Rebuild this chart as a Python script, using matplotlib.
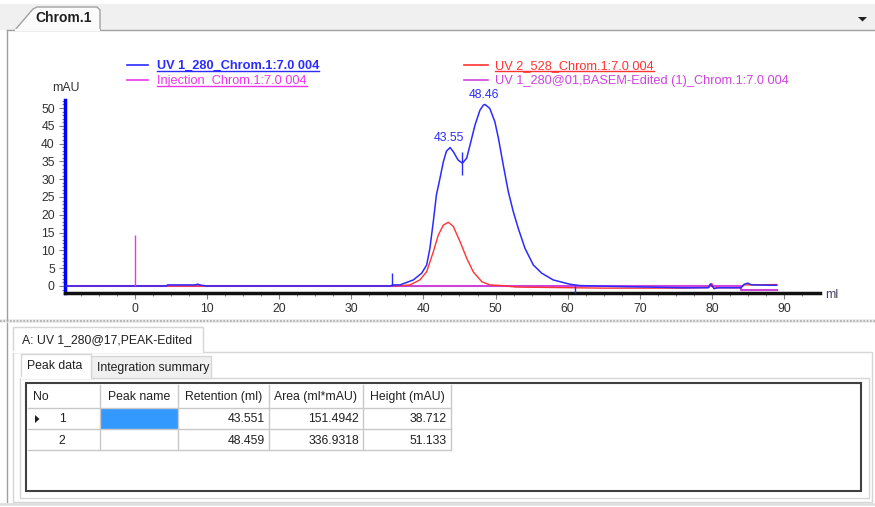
import numpy as np
import matplotlib.pyplot as plt
from matplotlib.patches import Rectangle, Polygon

# ---- data ----
uv1_ml = [-9.7, 4.4, 4.5, 8.3, 8.7, 9.2, 10, 35.5, 35.7, 36.75, 38.6, 39.76, 40.45, 40.9, 41.37,
          41.8, 42.3, 42.76, 43.2, 43.7, 44.15, 44.8, 45.4, 46.0, 46.46, 47.15, 47.84, 48.3,
          48.54, 49.2, 49.9, 50.4, 51.07, 51.77, 52.46, 53.15, 54.08, 55.24, 56.4, 58.0, 60.3,
          61.7, 66, 76, 79.5, 79.8, 80.3, 81, 84, 84.5, 85, 85.5, 89]
uv1_mau = [0, 0, 0.3, 0.3, 0.5, 0.2, 0, 0, 0.3, 0.3, 1.7, 3.6, 5.9, 10.6, 18.1,
           25.6, 30.3, 34.9, 37.9, 38.9, 37.7, 35.4, 34.5, 35.9, 39.6, 45.2, 49.4, 50.8,
           51.0, 49.9, 46.2, 41.5, 34.0, 26.5, 20.9, 16.2, 10.6, 5.9, 3.6, 1.7, 0.5,
           0.1, -0.1, -0.5, -0.5, 0.6, -0.7, -0.5, -0.5, 0.5, 0.8, 0.3, 0.2]

uv2_ml = [-9.7, 35, 37, 38.1, 39.5, 40.45, 41.37, 42.06, 42.76, 43.45, 44.15, 45.07, 46.0,
          46.9, 48.1, 49.2, 51, 52.8, 65, 76, 79.6, 80, 80.3, 80.8, 81, 84, 84.5, 89]
uv2_mau = [0, 0, 0.1, 0.28, 1.7, 4.0, 9.6, 14.3, 17.1, 17.9, 16.7, 12.5, 7.8,
           4.0, 1.2, 0.3, 0.1, -0.3, -0.6, -0.6, -0.4, 0.7, -0.8, -0.3, -0.5, -0.5, 0.3, 0.4]

base_ml = [-9.7, 84, 84, 89]
base_mau = [0, 0, -1.1, -1.1]

inj_ml = [0]
inj_mau = [14.3]

peak_ret = [43.55, 48.46]
peak_top = [38.9, 51.0]
valley_ml = [45.3]
valley_span = [31.2, 37.6]
win_ml = [35.6, 61.0]
win_lo = [0, -2.0]
win_hi = [3.7, 0]

y_ticks = list(range(0, 51, 5))
x_ticks = list(range(0, 91, 10))

legend_names = ["UV 1_280_Chrom.1:7.0 004", "Injection_Chrom.1:7.0 004",
                "UV 2_528_Chrom.1:7.0 004", "UV 1_280@01,BASEM-Edited (1)_Chrom.1:7.0 004"]

col_names = ["No", "Peak name", "Retention (ml)", "Area (ml*mAU)", "Height (mAU)"]
peak_no = [1, 2]
peak_name = ["", ""]
retention = [43.551, 48.459]
area = [151.4942, 336.9318]
height = [38.712, 51.133]

# ---- figure ----
plt.rcParams['font.family'] = ['Liberation Sans', 'DejaVu Sans']
plt.rcParams['font.size'] = 8.8
FS = 8.8

W, H = 875, 507
fig = plt.figure(figsize=(W / 100, H / 100), dpi=100)
fig.patch.set_facecolor('white')

bg = fig.add_axes([0, 0, 1, 1])
bg.set_xlim(0, W)
bg.set_ylim(H, 0)
bg.axis('off')

blue, red, mag, mag2 = '#2b2bff', '#ff3333', '#ee33ee', '#cc44dd'

# top tab bar
bg.add_patch(Rectangle((0, 4), W, 26, fc='#f0f0f0', ec='none'))
bg.plot([7, W], [30, 30], color='#a0a0a0', lw=1)
bg.add_patch(Polygon([(15, 30), (33, 9), (37, 7), (97, 7), (100, 10), (100, 30)],
                     closed=True, fc='#fbfbfb', ec='#a0a0a0', lw=1))
bg.plot([16, 99], [30, 30], color='#fbfbfb', lw=1.5)
bg.text(64, 18, "Chrom.1", ha='center', va='center', fontsize=10, fontweight='bold', color='#202020')
bg.add_patch(Polygon([(858, 17), (867, 17), (862.5, 21.5)], closed=True, fc='#202020', ec='none'))
bg.plot([7, 7], [30, 320], color='#a0a0a0', lw=1)

# splitter
bg.add_patch(Rectangle((0, 318.5), W, 4, fc='#ececec', ec='none'))
bg.plot([0, W], [320.5, 320.5], color='#a8a8a8', lw=1.2, ls=(0, (1, 1)))
bg.plot([7, 7], [323, 502], color='#a0a0a0', lw=1)

# legend
rows_y = [65, 80]
legend_pos = [(127, 148, 157, rows_y[0], blue, True, 'bold'),
              (127, 148, 157, rows_y[1], mag, True, 'normal'),
              (464, 488, 495, rows_y[0], red, True, 'normal'),
              (464, 488, 495, rows_y[1], mag2, False, 'normal')]
legend_txt = []
for name, (x0, x1, xt, y, c, ul, fw) in zip(legend_names, legend_pos):
    bg.plot([x0, x1], [y, y], color=c, lw=1.2)
    t = bg.text(xt, y + 1, name, ha='left', va='center', color=c, fontsize=9.2, fontweight=fw)
    legend_txt.append((t, y, c, ul))

# chart axes
ax = fig.add_axes([65 / W, (H - 293) / H, (820 - 65) / W, (293 - 100) / H])
ax.set_xlim(-9.71, 95.0)
ax.set_ylim(-1.97, 52.25)
ax.patch.set_alpha(0)
for s in ['top', 'right']:
    ax.spines[s].set_visible(False)
ax.spines['left'].set_color('#0000ff')
ax.spines['left'].set_linewidth(2.5)
ax.spines['bottom'].set_color('#101010')
ax.spines['bottom'].set_linewidth(2.5)

ax.set_yticks(y_ticks)
ax.set_yticks(np.arange(-1, 53, 1), minor=True)
ax.set_xticks(x_ticks)
ax.set_xticks(np.arange(-7.5, 95, 2.5), minor=True)
ax.tick_params(axis='both', which='major', length=4.3, width=0.8, color='#808080',
               labelsize=FS, labelcolor='#303030', pad=3)
ax.tick_params(axis='both', which='minor', length=2.5, width=0.8, color='#808080')

ax.plot(base_ml, base_mau, color=mag2, lw=1.5, zorder=1)
ax.plot(uv1_ml, uv1_mau, color=blue, lw=1.1, zorder=3)
ax.plot(uv2_ml, uv2_mau, color=red, lw=1.0, zorder=2)
ax.vlines(inj_ml, 0, inj_mau, color=mag, lw=1.0, zorder=4)
ax.vlines(valley_ml, valley_span[0], valley_span[1], color=blue, lw=1.0, zorder=4)
ax.vlines(win_ml, win_lo, win_hi, color=blue, lw=1.0, zorder=4, clip_on=False)
for r, h in zip(peak_ret, peak_top):
    ax.annotate(f"{r:.2f}", (r, h), xytext=(0, 7), textcoords='offset points',
                ha='center', va='center', color=blue, fontsize=FS, annotation_clip=False)

bg.text(66, 88, "mAU", ha='center', va='center', color='#303030', fontsize=FS)
bg.text(825, 295, "ml", ha='left', va='center', color='#404060', fontsize=FS)

# bottom panel
bg.add_patch(Rectangle((13, 352), 859, 150, fc='white', ec='#d6d6d6', lw=1))
bg.add_patch(Rectangle((13, 327), 190, 25, fc='white', ec='#d6d6d6', lw=1))
bg.plot([14, 202], [352, 352], color='white', lw=1.5)
bg.text(22, 340, "A: UV 1_280@17,PEAK-Edited", ha='left', va='center', color='#202020', fontsize=FS)

bg.add_patch(Rectangle((20, 378), 849, 120, fc='white', ec='#d6d6d6', lw=1))
bg.add_patch(Rectangle((91, 356), 120, 22, fc='#f0f0f0', ec='#d6d6d6', lw=1))
bg.add_patch(Rectangle((21, 354), 70, 24, fc='white', ec='#d6d6d6', lw=1))
bg.plot([22, 90], [378, 378], color='white', lw=1.5)
bg.text(27, 366, "Peak data", ha='left', va='center', color='#202020', fontsize=FS)
bg.text(97, 368, "Integration summary", ha='left', va='center', color='#202020', fontsize=FS)

# table
edges = [28, 100, 178, 269, 363, 451]
row_edges = [385, 408, 429, 450]
bg.add_patch(Rectangle((26, 383), 835, 108, fc='white', ec='#404040', lw=1.5, zorder=5))
bg.add_patch(Rectangle((edges[1] + 1, row_edges[1] + 1), edges[2] - edges[1] - 1,
                       row_edges[2] - row_edges[1] - 1, fc='#3399ff', ec='none', zorder=6))
for y in row_edges[1:]:
    bg.plot([edges[0], edges[-1]], [y, y], color='#c8c8c8', lw=1, zorder=6)
for x in edges[1:]:
    bg.plot([x, x], [row_edges[0], row_edges[-1]], color='#c8c8c8', lw=1, zorder=6)
for i, name in enumerate(col_names):
    if i == 0:
        bg.text(33, 397, name, ha='left', va='center', color='#202020', fontsize=FS, zorder=7)
    else:
        bg.text((edges[i] + edges[i + 1]) / 2, 397, name, ha='center', va='center',
                color='#202020', fontsize=FS, zorder=7)
for k in range(len(peak_no)):
    yc = (row_edges[k + 1] + row_edges[k + 2]) / 2 + 1
    bg.text(62, yc, str(peak_no[k]), ha='center', va='center', color='#202020', fontsize=FS, zorder=7)
    bg.text(edges[2] - 5, yc, peak_name[k], ha='right', va='center', fontsize=FS, zorder=7)
    bg.text(edges[3] - 4, yc, f"{retention[k]:.3f}", ha='right', va='center', color='#202020', fontsize=FS, zorder=7)
    bg.text(edges[4] - 4, yc, f"{area[k]:.4f}", ha='right', va='center', color='#202020', fontsize=FS, zorder=7)
    bg.text(edges[5] - 4, yc, f"{height[k]:.3f}", ha='right', va='center', color='#202020', fontsize=FS, zorder=7)
bg.add_patch(Polygon([(35, 415), (35, 423), (39.5, 419)], closed=True, fc='#202020', ec='none', zorder=7))
bg.plot([0, W], [504, 504], color='#e0e0e0', lw=2)

# underlines under the legend texts
fig.canvas.draw()
rend = fig.canvas.get_renderer()
for t, y, c, ul in legend_txt:
    if ul:
        bb = t.get_window_extent(rend)
        bg.plot([bb.x0, bb.x1], [y + 6, y + 6], color=c, lw=1)

fig.savefig('out.png', dpi=100)
